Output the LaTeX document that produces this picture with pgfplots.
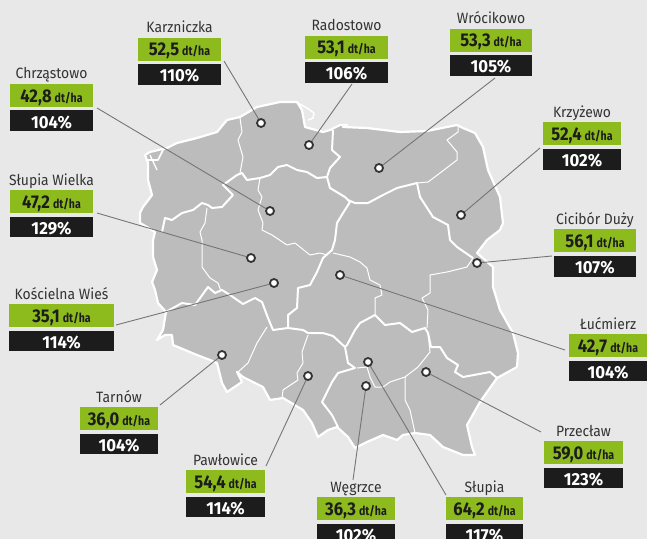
\documentclass[border=0pt]{standalone}
\usepackage{fontspec}
\setmainfont{Fira Sans}
\usepackage{pgfplots}
\pgfplotsset{compat=1.18}
\definecolor{bg}{HTML}{E8E8E8}
\definecolor{land}{HTML}{BCBCBC}
\definecolor{lime}{HTML}{8DBB1E}
\definecolor{ink}{HTML}{1C1C1C}
\definecolor{leader}{HTML}{757575}
\newcommand{\callout}[7]{% x0, x1, top of green box, name, value, pct, bottom of black box
  \fill[lime] (axis cs:#1,#3) rectangle (axis cs:#2,#3+23);
  \fill[ink] (axis cs:#1,#3+26.5) rectangle (axis cs:#2,#7);
  \node[text=black!80,anchor=base,inner sep=0pt] at (axis cs:{(#1+#2)/2},#3-5) {\fontsize{15}{16}\selectfont\scalebox{.93}[1]{#4}};
  \node[text=ink,anchor=base,inner sep=0pt] at (axis cs:{(#1+#2)/2},#3+18) {\fontsize{18.5}{19}\selectfont\bfseries\scalebox{.9}[1]{#5}\,\fontsize{12.5}{13}\selectfont\scalebox{.85}[1]{dt/ha}};
  \node[text=white,anchor=base,inner sep=0pt] at (axis cs:{(#1+#2)/2},#3+44) {\fontsize{17.5}{18}\selectfont\bfseries\scalebox{.96}[1]{#6}};
}
\begin{document}
\begin{tikzpicture}
\useasboundingbox (0,0) rectangle (647bp,539bp);
\clip (0,0) rectangle (647bp,539bp);
\begin{axis}[
  at={(0,0)}, anchor=south west,
  width=647bp, height=539bp, scale only axis,
  xmin=0, xmax=647, ymin=0, ymax=539, y dir=reverse,
  hide axis, clip=false]
\fill[bg] (axis cs:0,0) rectangle (axis cs:647,539);
% country outline
\addplot[fill=land, draw=white, line width=2.2bp, line join=round] coordinates {
(148,163) (145,155) (150,152) (167,148) (177,143) (197,138) (217,132) (227,120) (240,117)
(257,107) (280,102) (297,102) (302,110) (305,127) (323,132) (330,130) (340,125) (347,125)
(343,127) (367,128) (400,132) (427,131) (457,125) (463,128) (475,133) (483,147) (488,170)
(500,197) (503,223) (500,230) (487,240) (477,253) (493,267) (493,287) (500,310) (513,333)
(518,353) (517,367) (497,378) (480,402) (467,425) (472,447) (475,455) (463,455) (443,447)
(430,435) (415,433) (403,435) (397,440) (383,435) (367,442) (355,448) (348,437) (337,427)
(328,430) (318,437) (312,423) (303,410) (283,398) (270,400) (263,387) (243,377) (237,372)
(242,382) (227,392) (222,383) (217,363) (210,360) (197,355) (173,345) (172,335) (165,335)
(157,340) (163,330) (166,312) (158,303) (155,290) (152,282) (157,270) (153,257) (153,240)
(155,232) (147,227) (140,223) (140,213) (143,207) (152,195) (148,180)} --cycle;
% lagoon and Hel
\addplot[draw=white, line width=1.6bp, line join=round] coordinates {(148,160) (158,160) (163,150)};
\addplot[draw=white, line width=1.3bp] coordinates {(150,155) (157,170)};
\addplot[draw=white, line width=1.5bp, line join=round] coordinates {(298,103) (307,108) (314,113) (313,118) (308,120)};
% thick regional borders
\addplot[draw=white, line width=2bp, line join=round] coordinates {
(162,232) (165,218) (172,220) (182,213) (193,210) (202,203) (208,205) (212,208) (222,207)
(233,195) (223,185) (237,175) (242,173) (247,180) (260,178) (270,175) (278,167) (287,165)
(297,170) (307,172) (317,178) (327,177) (330,188) (345,197) (350,202) (343,213) (337,223)
(335,240) (332,250) (323,258) (317,272) (310,285) (298,288) (297,308) (288,315) (288,328)
(273,330) (268,318) (262,302) (255,298) (243,304) (230,295) (222,290) (215,293) (208,287)
(195,305) (182,303) (173,308) (166,312)};
\addplot[draw=white, line width=2bp, line join=round] coordinates {
(327,177) (330,168) (340,157) (332,150) (333,130)};
\addplot[draw=white, line width=2bp, line join=round] coordinates {
(288,328) (303,330) (308,333) (323,333) (333,336) (345,347) (348,363) (355,368) (338,373)
(332,382) (322,402) (332,415) (338,427)};
\addplot[draw=white, line width=2bp, line join=round] coordinates {
(345,347) (347,345) (355,330) (360,323) (375,315) (385,325) (400,323) (412,332) (425,328)
(428,333) (431,347) (440,347) (447,358) (458,365) (455,372) (463,377) (490,372) (497,378)};
\addplot[draw=white, line width=2bp, line join=round] coordinates {
(473,258) (457,247) (450,240) (448,225) (433,217) (420,197) (417,183) (397,188) (383,195)
(368,203) (355,203) (348,200)};
% thin regional borders
\addplot[draw=white, line width=1bp, line join=round] coordinates {
(333,253) (350,257) (360,262) (367,268) (370,280) (380,285) (382,295) (375,298) (375,315)};
\addplot[draw=white, line width=1bp, line join=round] coordinates {
(427,328) (428,310) (422,298) (430,293) (430,275) (447,272) (467,267) (473,258)};
\addplot[draw=white, line width=1bp, line join=round] coordinates {
(417,183) (428,182) (440,173) (457,160) (457,152) (447,140) (458,132) (458,125)};
\addplot[draw=white, line width=1bp, line join=round] coordinates {
(240,118) (242,132) (238,140) (243,157) (240,173)};
\addplot[draw=white, line width=1bp, line join=round] coordinates {
(260,178) (258,190) (262,197) (258,210) (263,223) (262,230) (272,235) (287,245) (295,243)
(310,255) (320,253) (327,255)};
\addplot[draw=white, line width=1bp, line join=round] coordinates {
(207,208) (205,223) (200,232) (202,240) (202,267) (210,278) (218,283) (221,291)};
\addplot[draw=white, line width=1bp, line join=round] coordinates {
(267,327) (257,343) (248,363) (238,372)};
\addplot[draw=white, line width=1bp, line join=round] coordinates {
(308,335) (302,352) (303,363) (297,373) (298,380) (283,390) (282,398)};
\addplot[draw=white, line width=1bp, line join=round] coordinates {
(357,368) (367,367) (370,377) (375,387) (383,387) (390,382) (405,377) (418,367) (430,352) (428,333)};
\addplot[draw=white, line width=1bp, line join=round] coordinates {
(405,377) (405,400) (410,410) (415,433)};
% leader lines
\addplot[draw=leader, line width=.9bp] coordinates {(224,61) (261,123)};
\addplot[draw=leader, line width=.9bp] coordinates {(97,108) (270,211)};
\addplot[draw=leader, line width=.9bp] coordinates {(352,84) (309,145)};
\addplot[draw=leader, line width=.9bp] coordinates {(495,78) (379,168)};
\addplot[draw=leader, line width=.9bp] coordinates {(540,148) (461,215)};
\addplot[draw=leader, line width=.9bp] coordinates {(552,256) (477,263)};
\addplot[draw=leader, line width=.9bp] coordinates {(565,350) (340,275)};
\addplot[draw=leader, line width=.9bp] coordinates {(541,432) (426,372)};
\addplot[draw=leader, line width=.9bp] coordinates {(446,495) (368,362)};
\addplot[draw=leader, line width=.9bp] coordinates {(353,480) (366,386)};
\addplot[draw=leader, line width=.9bp] coordinates {(266,466) (308,376)};
\addplot[draw=leader, line width=.9bp] coordinates {(160,405) (222,355)};
\addplot[draw=leader, line width=.9bp] coordinates {(116,325) (274,283)};
\addplot[draw=leader, line width=.9bp] coordinates {(97,213) (251,258)};
% variety sites
\addplot[only marks, mark=*, mark size=4bp,
  mark options={draw=black!80, fill=white, line width=1.8bp}] coordinates {
(261,123) (270,211) (309,145) (379,168) (461,215) (477,263) (340,275)
(426,372) (368,362) (366,386) (308,376) (222,355) (274,283) (251,258)};
% callouts
\callout{138}{221}{38}{Karzniczka}{52,5}{110\%}{85}
\callout{10}{93}{84}{Chrząstowo}{42,8}{104\%}{131}
\callout{305}{388}{36}{Radostowo}{53,1}{106\%}{83}
\callout{450}{532}{29}{Wrócikowo}{53,3}{105\%}{76}
\callout{543}{621}{122}{Krzyżewo}{52,4}{102\%}{170}
\callout{554}{636}{229}{Cicibór Duży}{56,1}{107\%}{277}
\callout{569}{647}{334}{Łućmierz}{42,7}{104\%}{381}
\callout{544}{623}{441}{Przecław}{59,0}{123\%}{488}
\callout{446}{523}{497}{Słupia}{64,2}{117\%}{539}
\callout{317}{395}{497}{Węgrzce}{36,3}{102\%}{539}
\callout{186}{265}{470}{Pawłowice}{54,4}{114\%}{517}
\callout{80}{158}{407}{Tarnów}{36,0}{104\%}{454}
\callout{9}{114}{304}{Kościelna Wieś}{35,1}{114\%}{351}
\callout{10}{93}{190}{Słupia Wielka}{47,2}{129\%}{237}
\end{axis}
\end{tikzpicture}
\end{document}
